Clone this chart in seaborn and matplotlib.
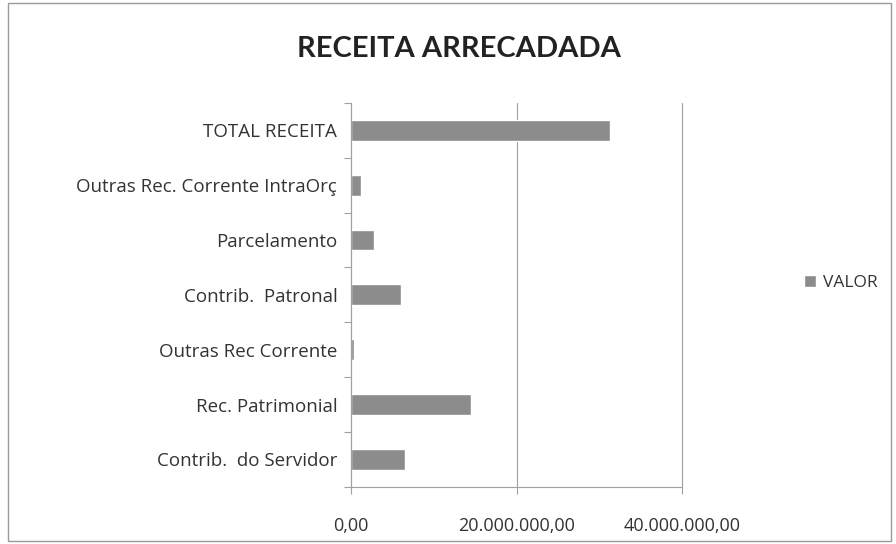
import matplotlib
matplotlib.use("Agg")
import matplotlib.pyplot as plt
import matplotlib.ticker as mticker
from matplotlib.patches import Rectangle, Patch
import pandas as pd
import seaborn as sns

# dados (R$)
categorias = [
    "TOTAL RECEITA",
    "Outras Rec. Corrente IntraOrç",
    "Parcelamento",
    "Contrib.  Patronal",
    "Outras Rec Corrente",
    "Rec. Patrimonial",
    "Contrib.  do Servidor",
]
valores = [31_300_000, 1_230_000, 2_740_000, 6_030_000, 370_000, 14_500_000, 6_470_000]
ticks_x = [0, 20_000_000, 40_000_000]
serie = "VALOR"

sns.set_theme(style="white")
plt.rcParams["font.family"] = ["Open Sans", "DejaVu Sans"]

df = pd.DataFrame({"categoria": categorias, "valor": valores})

fig = plt.figure(figsize=(8.96, 5.44), dpi=100)
ax = fig.add_axes([0.392, 0.105, 0.369, 0.706])

cor_barra = "#8c8c8c"
sns.barplot(data=df, x="valor", y="categoria", orient="h", color=cor_barra,
            width=0.38, saturation=1, ax=ax)

ax.set_xlim(0, 40_000_000)
ax.set_ylim(len(categorias) - 0.5, -0.5)


def fmt_br(v, pos):
    s = f"{v:,.2f}"
    return s.replace(",", "X").replace(".", ",").replace("X", ".")


ax.xaxis.set_major_locator(mticker.FixedLocator(ticks_x))
ax.xaxis.set_major_formatter(mticker.FuncFormatter(fmt_br))
ax.set_xlabel("")
ax.set_ylabel("")

ax.grid(axis="x", color="#a0a0a0", linewidth=0.8)
ax.set_axisbelow(True)
for g in ax.xaxis.get_gridlines():
    g.set_clip_on(False)
for lado in ["top", "right"]:
    ax.spines[lado].set_visible(False)
for lado in ["left", "bottom"]:
    ax.spines[lado].set_color("#a0a0a0")
    ax.spines[lado].set_linewidth(0.8)

ax.tick_params(axis="x", length=5, width=0.8, color="#a0a0a0", pad=17,
               labelsize=13, labelcolor="#333333", direction="out", bottom=True)
ax.tick_params(axis="y", length=0, pad=10, labelsize=13.5, labelcolor="#333333")
ax.yaxis.set_minor_locator(mticker.FixedLocator(
    [i - 0.5 for i in range(len(categorias) + 1)]))
ax.tick_params(axis="y", which="minor", length=5, width=0.8, color="#a0a0a0",
               left=True)

fig.text(0.512, 0.91, "RECEITA ARRECADADA", ha="center", va="center",
         fontsize=21, fontweight="bold", color="#222222", family=["Lato", "DejaVu Sans"])

fig.legend(handles=[Patch(facecolor=cor_barra, label=serie)],
           loc="center left", bbox_to_anchor=(0.88, 0.48), frameon=False,
           fontsize=12.5, handlelength=0.7, handleheight=0.7, handletextpad=0.4,
           labelcolor="#333333")

fig.patches.append(Rectangle((0.009, 0.006), 0.985, 0.988, transform=fig.transFigure,
                             fill=False, edgecolor="#9a9a9a", linewidth=1))

fig.savefig("out.png", dpi=100)
plt.close(fig)
